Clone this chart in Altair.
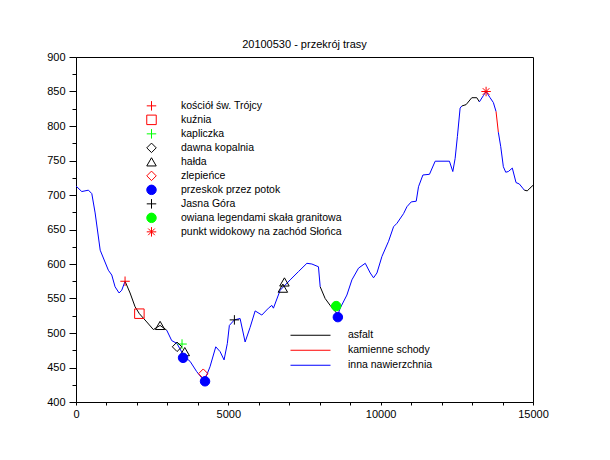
import altair as alt
import pandas as pd

# --- elevation profile (distance [m], elevation [m a.s.l.]) ---
dist = [0, 190, 408, 519, 628, 794, 1062, 1174, 1282, 1414, 1502, 1610,
        1775, 1939, 2080, 2323, 2539, 2760, 2979,
        3141, 3308, 3413, 3550, 3743, 3962, 4126, 4235, 4398, 4588, 4730, 4860,
        4968, 5034, 5199, 5386, 5551, 5714, 5880, 6099, 6316, 6428, 6480, 6701,
        7030, 7302, 7578, 7742, 7958,
        8015, 8178, 8343, 8507, 8600,
        8671, 8891, 9056, 9273, 9494, 9658, 9766, 9878, 10042, 10260, 10423,
        10535, 10751, 10862, 11003, 11167, 11242, 11386, 11602, 11789, 12257,
        12368, 12444, 12519, 12608, 12664,
        12804, 12991, 13155, 13240,
        13371, 13460, 13591, 13699, 13787,
        13862,
        13941, 14027, 14105, 14190, 14321, 14443, 14551, 14662, 14715,
        14813, 14902, 15000]
elev = [713, 705, 707, 702, 674, 620, 591, 584, 567, 558, 562, 575,
        558, 538, 528, 516, 505, 511, 504,
        489, 485, 477, 466, 459, 444, 435, 433, 451, 480, 473, 461,
        485, 511, 519, 521, 487, 508, 532, 526, 536, 540, 536, 562,
        577, 589, 601, 600, 596,
        567, 550, 540, 531, 527,
        536, 555, 577, 594, 601, 587, 580, 587, 611, 633, 654,
        659, 673, 683, 690, 691, 712, 729, 730, 749, 749,
        734, 753, 785, 826, 829,
        831, 841, 841, 835,
        844, 850, 841, 834, 821,
        791,
        770, 741, 733, 734, 739, 718, 716, 710, 707,
        706, 710, 714]

# surface type valid from the given distance onwards
surface_start = [0, 1610, 2979, 8015, 8600, 12664, 13240, 13787, 13862, 14715]
surface_name = ["inna nawierzchnia", "asfalt", "inna nawierzchnia", "asfalt",
                "inna nawierzchnia", "asfalt", "inna nawierzchnia",
                "kamienne schody", "inna nawierzchnia", "asfalt"]
surface_domain = ["asfalt", "kamienne schody", "inna nawierzchnia"]
surface_colors = ["#000000", "#ff0000", "#0000ff"]

# --- points of interest ---
poi_names = ["kościół św. Trójcy", "kuźnia", "kapliczka", "dawna kopalnia", "hałda",
             "zlepieńce", "przeskok przez potok", "Jasna Góra",
             "owiana legendami skała granitowa", "punkt widokowy na zachód Słońca"]
poi_obj = ["kościół św. Trójcy", "kuźnia", "kapliczka", "dawna kopalnia",
           "hałda", "hałda", "hałda", "hałda", "zlepieńce",
           "przeskok przez potok", "przeskok przez potok", "przeskok przez potok",
           "Jasna Góra", "owiana legendami skała granitowa",
           "punkt widokowy na zachód Słońca"]
poi_dist = [1610, 2080, 3480, 3317, 2760, 3570, 6790, 6842, 4177,
            3514, 4235, 8595, 5199, 8540, 13460]
poi_elev = [575, 528, 484, 480, 511, 473, 565, 574, 441,
            464, 430, 523, 519, 539, 850]

PLUS = "M-1,0H1M0,-1V1"
ASTER = "M-1,0H1M0,-1V1M-0.7,-0.7L0.7,0.7M-0.7,0.7L0.7,-0.7"
DIAM = "M0,-1L1,0L0,1L-1,0Z"
poi_shapes = [PLUS, "square", PLUS, DIAM, "triangle-up", DIAM, "circle", PLUS,
              "circle", ASTER]
poi_strokes = ["#ff0000", "#ff0000", "#00ff00", "#000000", "#000000", "#ff0000",
               "#0000ff", "#000000", "#00ff00", "#ff0000"]
poi_fills = ["transparent", "transparent", "transparent", "transparent",
             "transparent", "transparent", "#0000ff", "transparent", "#00ff00",
             "transparent"]

# --- build tables ---
rows = []
for k, start in enumerate(surface_start):
    end = surface_start[k + 1] if k + 1 < len(surface_start) else dist[-1]
    for i, d in enumerate(dist):
        if start <= d <= end:
            rows.append({"seg": k, "ord": i, "d": d, "e": elev[i],
                         "surface": surface_name[k]})
profile = pd.DataFrame(rows)
pois = pd.DataFrame({"obiekt": poi_obj, "d": poi_dist, "e": poi_elev})

FONT = "Liberation Sans"

x_scale = alt.Scale(domain=[0, 15000], nice=False, zero=False)
y_scale = alt.Scale(domain=[400, 900], nice=False, zero=False)

x_axis = alt.Axis(values=list(range(0, 15001, 1000)),
                  labelExpr="datum.value % 5000 == 0 ? datum.label : ''",
                  format="d", title=None, grid=False, tickSize=3,
                  labelPadding=3, labelOverlap=False, labelFlush=False,
                  labelBound=False)
y_axis = alt.Axis(values=list(range(400, 901, 25)),
                  labelExpr="datum.value % 50 == 0 ? datum.label : ''",
                  format="d", title=None, grid=False,
                  tickSize={"condition": {"test": "datum.value % 50 == 0", "value": 7},
                            "value": 4},
                  labelPadding=4, labelOverlap=False, labelFlush=False,
                  labelBound=False)

line_legend = alt.Legend(title=None, orient="none", legendX=214, legendY=271,
                         symbolType="stroke", symbolSize=1600, symbolStrokeWidth=1,
                         clipHeight=14.5, rowPadding=0, labelOffset=17,
                         labelFont=FONT, labelFontSize=10.5, labelColor="black",
                         labelLimit=0, padding=0)

lines = alt.Chart(profile).mark_line(strokeWidth=1).encode(
    x=alt.X("d:Q", scale=x_scale, axis=x_axis),
    y=alt.Y("e:Q", scale=y_scale, axis=y_axis),
    color=alt.Color("surface:N", scale=alt.Scale(domain=surface_domain,
                                                 range=surface_colors),
                    legend=line_legend),
    detail="seg:N",
    order="ord:Q",
)

poi_legend = alt.Legend(title=None, orient="none", legendX=70, legendY=42,
                        symbolSize=90, symbolStrokeWidth=1, clipHeight=13.7,
                        rowPadding=0, labelOffset=24, labelFont=FONT,
                        labelFontSize=10.5, labelColor="black", labelLimit=0,
                        padding=0)

points = alt.Chart(pois).mark_point(size=90, strokeWidth=1, opacity=1).encode(
    x=alt.X("d:Q", scale=x_scale, axis=x_axis),
    y=alt.Y("e:Q", scale=y_scale, axis=y_axis),
    shape=alt.Shape("obiekt:N", scale=alt.Scale(domain=poi_names, range=poi_shapes),
                    legend=poi_legend),
    stroke=alt.Stroke("obiekt:N", scale=alt.Scale(domain=poi_names, range=poi_strokes),
                      legend=poi_legend),
    fill=alt.Fill("obiekt:N", scale=alt.Scale(domain=poi_names, range=poi_fills),
                  legend=poi_legend),
)

chart = alt.layer(lines, points).resolve_scale(
    color="independent"
).properties(
    width=457, height=345,
    title=alt.TitleParams("20100530 - przekrój trasy", font=FONT, fontSize=11,
                          fontWeight="normal", color="black", offset=1,
                          anchor="middle"),
    autosize=alt.AutoSizeParams(type="none"),
    padding={"left": 68, "top": 49, "right": 69, "bottom": 50},
    background="white",
).configure_view(
    stroke="black", strokeWidth=1
).configure_axis(
    domainColor="black", tickColor="black", labelColor="black",
    labelFont=FONT, labelFontSize=11, domainWidth=1, tickWidth=1,
    labelOverlap=False
)

chart.save("out.html", embed_options={"renderer": "svg", "actions": False})
